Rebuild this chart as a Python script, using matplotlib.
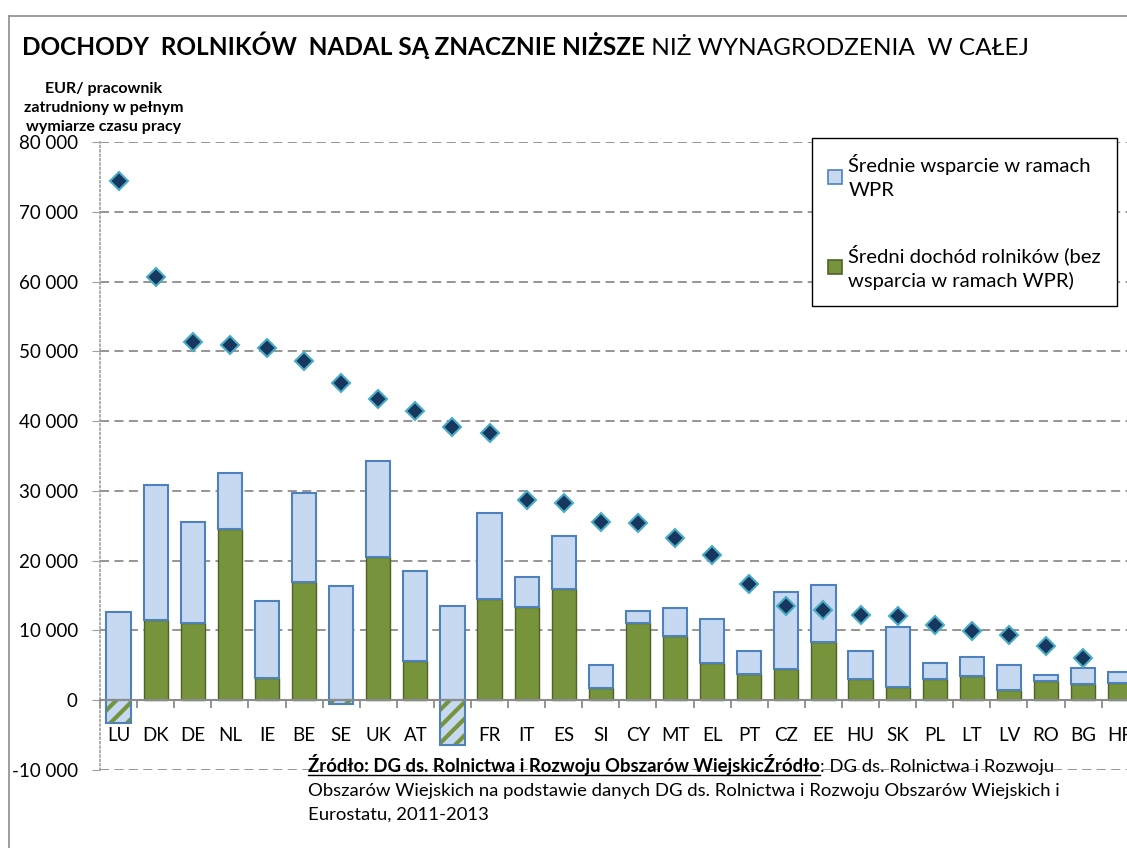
import numpy as np
import matplotlib
matplotlib.use("Agg")
import matplotlib.pyplot as plt
from matplotlib.lines import Line2D
from matplotlib.patches import Patch
from matplotlib.ticker import FuncFormatter, MultipleLocator, FixedLocator

plt.rcParams['font.family'] = ['Lato', 'DejaVu Sans']
plt.rcParams['hatch.linewidth'] = 3

countries = ["LU", "DK", "DE", "NL", "IE", "BE", "SE", "UK", "AT", "FI", "FR", "IT", "ES", "SI",
             "CY", "MT", "EL", "PT", "CZ", "EE", "HU", "SK", "PL", "LT", "LV", "RO", "BG", "HR"]
# farm income without CAP support (green), EUR per AWU
income = [-3200, 11500, 11100, 24500, 3200, 16900, -600, 20500, 5600, -6400, 14500, 13300, 15900, 1700,
          11000, 9200, 5300, 3700, 4500, 8300, 3100, 1900, 3000, 3500, 1500, 2800, 2300, 2500]
# average CAP support (light blue)
support = [12600, 19300, 14400, 8000, 11000, 12800, 16400, 13800, 12900, 13500, 12300, 4300, 7600, 3300,
           1800, 4000, 6300, 3300, 11000, 8200, 3900, 8600, 2400, 2700, 3500, 800, 2300, 1500]
# average wages in the whole economy (diamonds)
wages = [74400, 60600, 51300, 50900, 50500, 48600, 45500, 43100, 41500, 39100, 38300, 28700, 28200, 25500,
         25400, 23200, 20800, 16600, 13500, 12900, 12200, 12000, 10800, 9900, 9300, 7800, 6000, np.nan]

BLUE_FACE = "#C6D9F1"
BLUE_EDGE = "#4F81BD"
GREEN_FACE = "#77933C"
GREEN_EDGE = "#4F6228"

W, H = 1127, 848
fig = plt.figure(figsize=(W / 100, H / 100), dpi=100)
ax = fig.add_axes([100 / W, 78 / H, 28 * 37.1 / W, 628 / H])

x = np.arange(len(countries))
inc = np.array(income, dtype=float)
sup = np.array(support, dtype=float)
pos = np.clip(inc, 0, None)
neg = np.clip(inc, None, 0)
bw = 0.65

# positive farm income
ax.bar(x, pos, bw, color=GREEN_FACE, edgecolor=GREEN_EDGE, linewidth=1, zorder=3)
# negative farm income: hatched
ax.bar(x, neg, bw, color=BLUE_FACE, edgecolor=GREEN_FACE, hatch="//", linewidth=0, zorder=3)
ax.bar(x, neg, bw, color="none", edgecolor=BLUE_EDGE, linewidth=1.5, zorder=4)
# CAP support on top
ax.bar(x, sup, bw, bottom=pos, color=BLUE_FACE, edgecolor=BLUE_EDGE, linewidth=1.5, zorder=3)

ax.plot(x, wages, linestyle="none", marker="D", markersize=9, markerfacecolor="#17375E",
        markeredgecolor="#4BACC6", markeredgewidth=1.5, zorder=5)

ax.set_xlim(-0.5, len(countries) - 0.5)
ax.set_ylim(-10000, 80000)
ax.yaxis.set_major_locator(MultipleLocator(10000))
ax.yaxis.set_major_formatter(FuncFormatter(lambda v, p: f"{int(v):,}".replace(",", " ")))
ax.grid(axis="y", color="#8C8C8C", linestyle=(0, (5, 3)), linewidth=1.3, zorder=0)
ax.set_axisbelow(True)

for s in ["top", "right"]:
    ax.spines[s].set_visible(False)
ax.spines["left"].set_color("#A0A0A0")
ax.spines["left"].set_linestyle(":")
ax.spines["left"].set_linewidth(1.2)
ax.spines["bottom"].set_position(("data", 0))
ax.spines["bottom"].set_color("#8C8C8C")
ax.spines["bottom"].set_linewidth(1.5)
ax.spines["bottom"].set_zorder(6)

ax.tick_params(axis="y", length=6, color="#A0A0A0", labelsize=13.5, pad=10)
ax.set_xticks(x)
ax.set_xticklabels(countries)
ax.xaxis.set_minor_locator(FixedLocator(np.arange(-0.5, len(countries), 1.0)))
ax.tick_params(axis="x", which="major", length=0, labelsize=13.5, pad=19)
ax.tick_params(axis="x", which="minor", length=6, width=1.3, color="#8C8C8C", direction="out")

# y axis label
fig.text(104 / W, 1 - 108 / H, "EUR/ pracownik\nzatrudniony w pełnym\nwymiarze czasu pracy",
         ha="center", va="center", fontsize=11.5, fontweight="bold", linespacing=1.45)

# legend
handles = [Patch(facecolor=BLUE_FACE, edgecolor=BLUE_EDGE, linewidth=1.2),
           Patch(facecolor=GREEN_FACE, edgecolor=GREEN_EDGE, linewidth=1.2)]
labels = ["Średnie wsparcie w ramach\nWPR", "Średni dochód rolników (bez\nwsparcia w ramach WPR)"]
leg = fig.legend(handles, labels, loc="upper left", bbox_to_anchor=(812 / W, 1 - 138 / H),
                 bbox_transform=fig.transFigure, fontsize=14.6, frameon=True, fancybox=False,
                 edgecolor="black", framealpha=1, handlelength=0.7, handleheight=0.7,
                 handletextpad=0.3, labelspacing=2.2, borderpad=0.8, borderaxespad=0)
leg.get_frame().set_linewidth(1.0)
for t in leg.get_texts():
    t.set_linespacing(1.5)

renderer = fig.canvas.get_renderer()

# title: bold part followed by regular part
ty = 1 - 55 / H
t1 = fig.text(22 / W, ty, "DOCHODY  ROLNIKÓW  NADAL SĄ ZNACZNIE NIŻSZE", fontsize=17.6,
              fontweight="bold", va="baseline")
bb = t1.get_window_extent(renderer)
fig.text(bb.x1 / W, ty, " NIŻ WYNAGRODZENIA  W CAŁEJ", fontsize=17.6, va="baseline")

# source note
sx = 308 / W
s1 = fig.text(sx, 1 - 772 / H, "Źródło: DG ds. Rolnictwa i Rozwoju Obszarów WiejskicŹródło",
              fontsize=13.3, fontweight="bold", va="baseline")
bb = s1.get_window_extent(renderer)
fig.add_artist(Line2D([bb.x0 / W, bb.x1 / W], [1 - 775 / H, 1 - 775 / H], color="black", linewidth=1))
fig.text(bb.x1 / W, 1 - 772 / H, ": DG ds. Rolnictwa i Rozwoju", fontsize=13.3, va="baseline")
fig.text(sx, 1 - 796 / H, "Obszarów Wiejskich na podstawie danych DG ds. Rolnictwa i Rozwoju Obszarów Wiejskich i",
         fontsize=13.3, va="baseline")
fig.text(sx, 1 - 820 / H, "Eurostatu, 2011-2013", fontsize=13.3, va="baseline")

# outer chart frame (top and left edges)
fig.add_artist(Line2D([9 / W, 1], [1 - 16 / H, 1 - 16 / H], color="#8C8C8C", linewidth=1.2))
fig.add_artist(Line2D([9 / W, 9 / W], [0, 1 - 16 / H], color="#8C8C8C", linewidth=1.2))

fig.savefig("out.png", dpi=100)
